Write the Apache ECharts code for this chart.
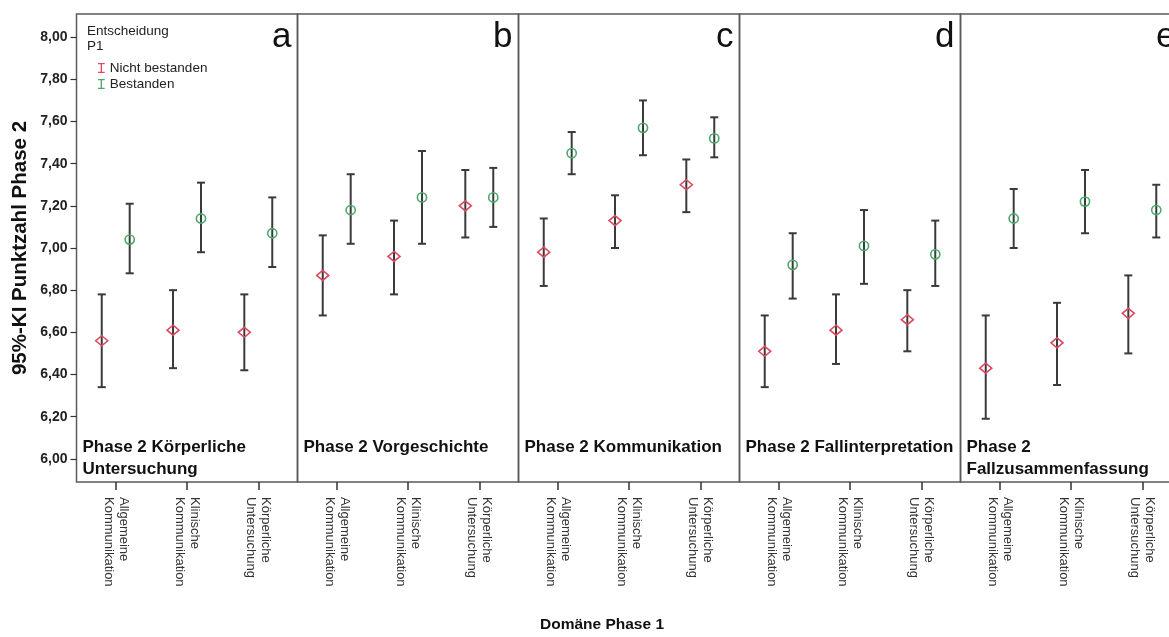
<!DOCTYPE html>
<html>
<head>
<meta charset="utf-8">
<script src="https://cdn.jsdelivr.net/npm/echarts@6/dist/echarts.min.js"></script>
<style>
html,body{margin:0;padding:0;background:#fff;}
#chart{width:1169px;height:637px;}
</style>
</head>
<body>
<div id="chart"></div>
<script>
// ---- data ----
const categories = ['Allgemeine\nKommunikation', 'Klinische\nKommunikation', 'Körperliche\nUntersuchung'];
const panelTitles = ['Phase 2 Körperliche\nUntersuchung', 'Phase 2 Vorgeschichte', 'Phase 2 Kommunikation', 'Phase 2 Fallinterpretation', 'Phase 2\nFallzusammenfassung'];
const panelLetters = ['a', 'b', 'c', 'd', 'e'];
const yTicks = [6.0, 6.2, 6.4, 6.6, 6.8, 7.0, 7.2, 7.4, 7.6, 7.8, 8.0];
const seriesNames = ['Nicht bestanden', 'Bestanden'];

// Nicht bestanden (per panel a..e, per category)
const failMean = [[6.56, 6.61, 6.60], [6.87, 6.96, 7.20], [6.98, 7.13, 7.30], [6.51, 6.61, 6.66], [6.43, 6.55, 6.69]];
const failLow  = [[6.34, 6.43, 6.42], [6.68, 6.78, 7.05], [6.82, 7.00, 7.17], [6.34, 6.45, 6.51], [6.19, 6.35, 6.50]];
const failHigh = [[6.78, 6.80, 6.78], [7.06, 7.13, 7.37], [7.14, 7.25, 7.42], [6.68, 6.78, 6.80], [6.68, 6.74, 6.87]];
// Bestanden
const passMean = [[7.04, 7.14, 7.07], [7.18, 7.24, 7.24], [7.45, 7.57, 7.52], [6.92, 7.01, 6.97], [7.14, 7.22, 7.18]];
const passLow  = [[6.88, 6.98, 6.91], [7.02, 7.02, 7.10], [7.35, 7.44, 7.43], [6.76, 6.83, 6.82], [7.00, 7.07, 7.05]];
const passHigh = [[7.21, 7.31, 7.24], [7.35, 7.46, 7.38], [7.55, 7.70, 7.62], [7.07, 7.18, 7.13], [7.28, 7.37, 7.30]];

// ---- layout / style ----
const FONT = 'Liberation Sans, Arial, sans-serif';
const RED = '#dc4a60';
const GREEN = '#4aa96a';
const BAR = '#3a3a3a';
const PANEL_LEFT0 = 76.5, PANEL_W = 221, TOP = 14, BOTTOM_Y = 482;
const OFFSET = 0.196; // half-spacing between the two groups (axis units)

const chart = echarts.init(document.getElementById('chart'), null, {renderer: 'canvas'});

function makeRender(kind, color) {
  return function (params, api) {
    const x = api.value(0) + (kind === 'diamond' ? -OFFSET : OFFSET);
    const pm = api.coord([x, api.value(1)]);
    const pl = api.coord([x, api.value(2)]);
    const ph = api.coord([x, api.value(3)]);
    const cap = 4;
    const bs = {stroke: BAR, lineWidth: 2};
    const children = [
      {type: 'line', shape: {x1: pl[0], y1: pl[1], x2: ph[0], y2: ph[1]}, style: bs},
      {type: 'line', shape: {x1: ph[0] - cap, y1: ph[1], x2: ph[0] + cap, y2: ph[1]}, style: bs},
      {type: 'line', shape: {x1: pl[0] - cap, y1: pl[1], x2: pl[0] + cap, y2: pl[1]}, style: bs}
    ];
    if (kind === 'diamond') {
      children.push({type: 'polygon', shape: {points: [[pm[0], pm[1] - 5], [pm[0] + 6, pm[1]], [pm[0], pm[1] + 5], [pm[0] - 6, pm[1]]]},
        style: {fill: 'none', stroke: color, lineWidth: 1.6}});
    } else {
      children.push({type: 'circle', shape: {cx: pm[0], cy: pm[1], r: 4.6},
        style: {fill: 'none', stroke: color, lineWidth: 1.6}});
    }
    return {type: 'group', children: children};
  };
}

const grids = [], xAxes = [], yAxes = [], series = [], graphics = [];
for (let p = 0; p < 5; p++) {
  const left = PANEL_LEFT0 + p * PANEL_W;
  grids.push({left: left, top: TOP, width: PANEL_W, height: BOTTOM_Y - TOP, show: true,
    outerBoundsMode: 'none', containLabel: false,
    borderColor: '#5a5a5a', borderWidth: 1.5, backgroundColor: 'transparent'});
  xAxes.push({
    type: 'value', gridIndex: p, min: -0.55, max: 2.55,
    axisLine: {show: false, onZero: false}, splitLine: {show: false},
    axisTick: {show: true, customValues: [0, 1, 2], length: 8, lineStyle: {color: '#333', width: 1.5}},
    axisLabel: {show: true, customValues: [0, 1, 2], formatter: v => categories[Math.round(v)],
      rotate: -90, fontFamily: FONT, fontSize: 13, color: '#333', lineHeight: 15, margin: 15}
  });
  const y = {
    type: 'value', gridIndex: p, min: 5.89, max: 8.11,
    axisLine: {show: false, onZero: false}, splitLine: {show: false},
    axisTick: {show: p === 0, customValues: yTicks, length: 6, lineStyle: {color: '#333', width: 1.2}},
    axisLabel: {show: p === 0, customValues: yTicks, formatter: v => v.toFixed(2).replace('.', ','),
      fontFamily: FONT, fontSize: 14, fontWeight: 'bold', color: '#222', margin: 9}
  };
  if (p === 0) {
    y.name = '95%-KI Punktzahl Phase 2';
    y.nameLocation = 'middle';
    y.nameGap = 46;
    y.nameTextStyle = {fontFamily: FONT, fontSize: 20.5, fontWeight: 'bold', color: '#111'};
  }
  yAxes.push(y);

  const failData = [], passData = [];
  for (let c = 0; c < 3; c++) {
    failData.push([c, failMean[p][c], failLow[p][c], failHigh[p][c]]);
    passData.push([c, passMean[p][c], passLow[p][c], passHigh[p][c]]);
  }
  series.push({
    type: 'custom', name: seriesNames[0], xAxisIndex: p, yAxisIndex: p,
    itemStyle: {color: RED}, renderItem: makeRender('diamond', RED),
    encode: {x: 0, y: [1, 2, 3]}, data: failData, z: 3
  });
  series.push({
    type: 'custom', name: seriesNames[1], xAxisIndex: p, yAxisIndex: p,
    itemStyle: {color: GREEN}, renderItem: makeRender('circle', GREEN),
    encode: {x: 0, y: [1, 2, 3]}, data: passData, z: 3
  });

  // panel letter
  graphics.push({type: 'text', x: left + PANEL_W - 6, y: 37,
    style: {text: panelLetters[p], font: '35px ' + FONT, fill: '#111', textAlign: 'right', textVerticalAlign: 'middle', align: 'right', verticalAlign: 'middle'}});
  // panel title
  graphics.push({type: 'text', x: left + 6, y: 436,
    style: {text: panelTitles[p], font: 'bold 17px ' + FONT, fill: '#111', lineHeight: 22, textAlign: 'left', textVerticalAlign: 'top', align: 'left', verticalAlign: 'top'}});
}

// legend header
graphics.push({type: 'text', x: 87, y: 24,
  style: {text: 'Entscheidung\nP1', font: '13.5px ' + FONT, fill: '#222', lineHeight: 15, textAlign: 'left', textVerticalAlign: 'top', align: 'left', verticalAlign: 'top'}});
// x-axis title
graphics.push({type: 'text', x: 602, y: 625,
  style: {text: 'Domäne Phase 1', font: 'bold 15.5px ' + FONT, fill: '#111', textAlign: 'center', textVerticalAlign: 'middle', align: 'center', verticalAlign: 'middle'}});

const ibeam = 'path://M0,0H8V1.6H4.8V10.4H8V12H0V10.4H3.2V1.6H0Z';

chart.setOption({
  backgroundColor: '#fff',
  animation: false,
  grid: grids,
  xAxis: xAxes,
  yAxis: yAxes,
  legend: {
    orient: 'vertical', left: 93, top: 56, itemGap: 2, itemWidth: 7, itemHeight: 10,
    data: [{name: seriesNames[0], icon: ibeam}, {name: seriesNames[1], icon: ibeam}],
    textStyle: {fontFamily: FONT, fontSize: 13.5, color: '#222'}, selectedMode: false
  },
  series: series,
  graphic: graphics
});
</script>
</body>
</html>
